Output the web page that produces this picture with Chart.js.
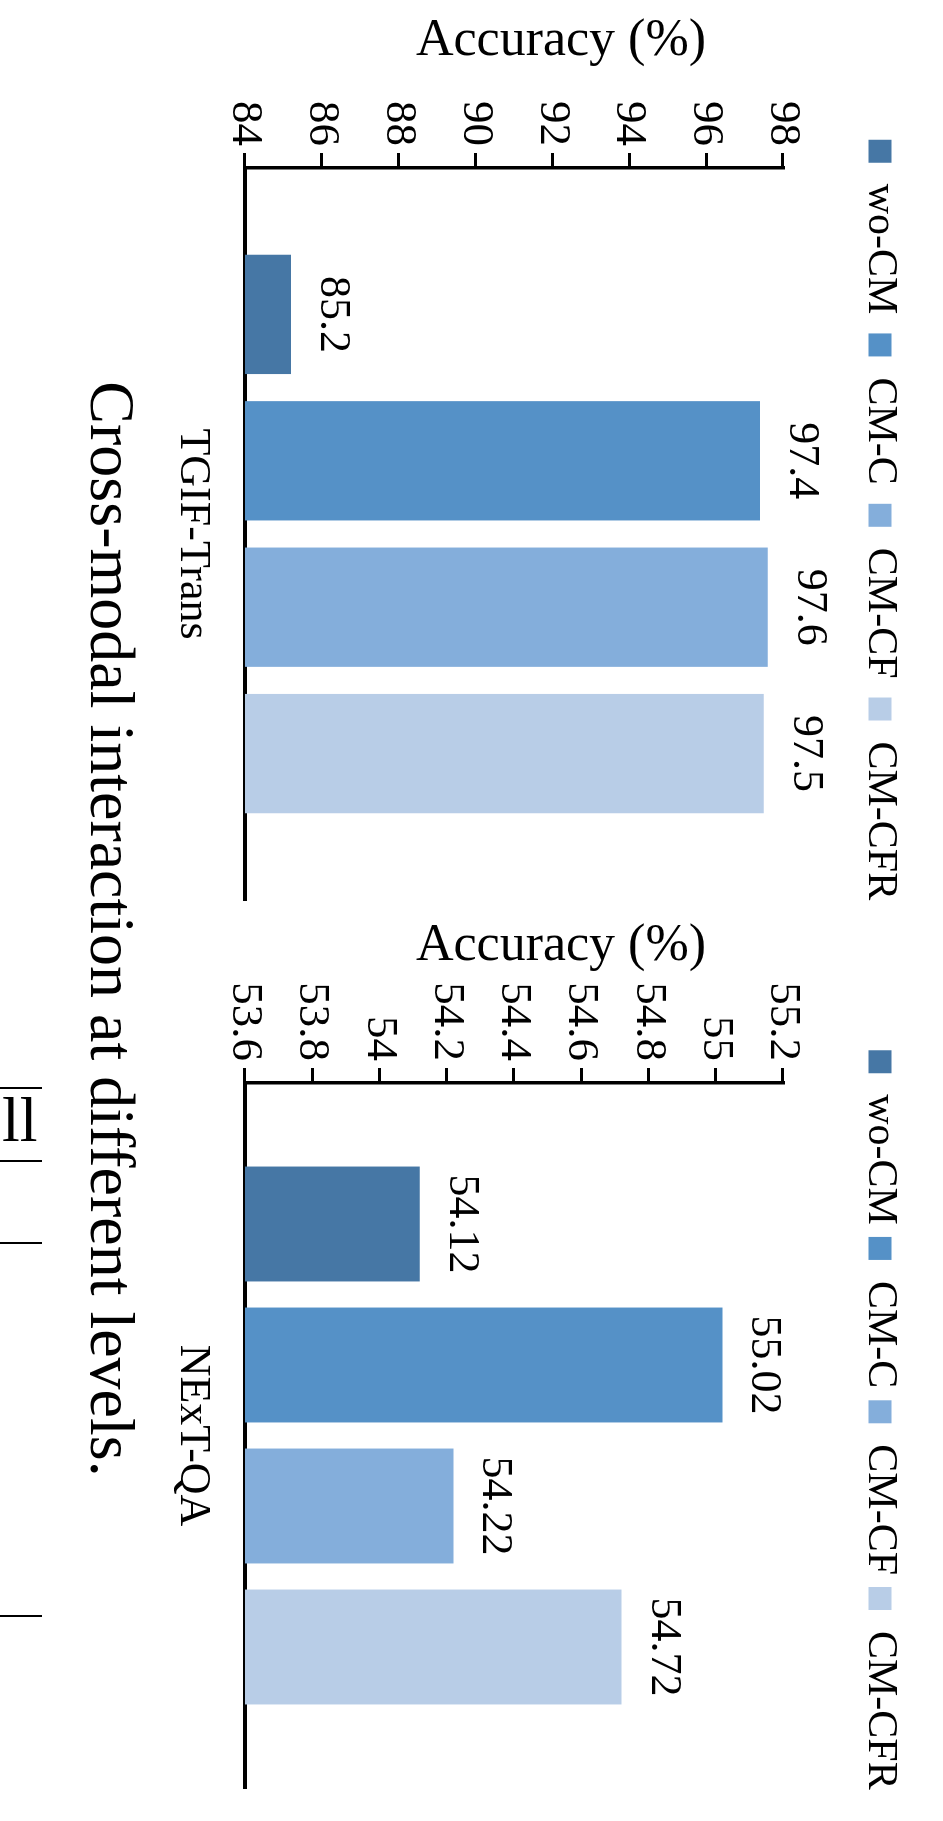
<!DOCTYPE html>
<html>
<head>
<meta charset="utf-8">
<title>Cross-modal interaction at different levels</title>
<script src="https://cdn.jsdelivr.net/npm/chart.js@4.4.1/dist/chart.umd.min.js"></script>
<style>
  html, body { margin: 0; padding: 0; background: #fff; overflow: hidden; }
  body { position: relative; width: 943px; height: 1821px; }
  /* the figure is laid out landscape and turned a quarter turn clockwise onto the page */
  #page {
    position: absolute; left: 0; top: 0;
    width: 1821px; height: 943px;
    transform-origin: 0 0;
    transform: translateX(943px) rotate(90deg);
  }
  #page canvas { position: absolute; top: 0; }
  #cvTgif { left: 0; }
  #cvNext { left: 905px; }
  #caption {
    position: absolute; left: 0; top: 799px; width: 1858px;
    font: 64px/64px 'Liberation Serif', 'Times New Roman', serif;
    color: #000; text-align: center; white-space: nowrap;
  }
  .rule { position: absolute; left: 0; width: 42px; height: 2px; background: #000; }
  #stub {
    position: absolute; left: 2px; top: 1088px;
    font: 64px/64px 'Liberation Serif', 'Times New Roman', serif; color: #000;
  }
</style>
</head>
<body>
<div id="page">
  <canvas id="cvTgif" width="905" height="943"></canvas>
  <canvas id="cvNext" width="916" height="943"></canvas>
  <div id="caption"></div>
</div>
<div class="rule" style="top:1087px"></div>
<div id="stub">ll</div>
<div class="rule" style="top:1160px"></div>
<div class="rule" style="top:1242px"></div>
<div class="rule" style="top:1615px"></div>

<script>
// ---- data ----
const seriesNames = ['wo-CM', 'CM-C', 'CM-CF', 'CM-CFR'];

const tgifCategories = ['TGIF-Trans'];
const tgifAccuracy = [85.2, 97.4, 97.6, 97.5];
const tgifTicks = [84, 86, 88, 90, 92, 94, 96, 98];
const tgifTickLabels = ['84', '86', '88', '90', '92', '94', '96', '98'];

const nextCategories = ['NExT-QA'];
const nextAccuracy = [54.12, 55.02, 54.22, 54.72];
const nextTicks = [53.6, 53.8, 54.0, 54.2, 54.4, 54.6, 54.8, 55.0, 55.2];
const nextTickLabels = ['53.6', '53.8', '54', '54.2', '54.4', '54.6', '54.8', '55', '55.2'];

const axisTitle = 'Accuracy (%)';
const captionText = 'Cross-modal interaction at different levels.';

// ---- style ----
const seriesColors = ['#4677A5', '#5591C7', '#84AEDB', '#B8CDE7'];
const fontFamily = "'Liberation Serif', 'Times New Roman', serif";

Chart.defaults.font.family = fontFamily;
Chart.defaults.color = '#000';

document.getElementById('caption').textContent = captionText;

// value printed above each bar
const valueLabels = {
  id: 'valueLabels',
  afterDatasetsDraw(chart, args, opts) {
    const ctx = chart.ctx;
    ctx.save();
    ctx.font = opts.size + 'px ' + fontFamily;
    ctx.fillStyle = '#000';
    ctx.textAlign = 'center';
    ctx.textBaseline = 'alphabetic';
    chart.data.datasets.forEach((ds, i) => {
      chart.getDatasetMeta(i).data.forEach((bar, j) => {
        ctx.fillText(String(ds.data[j]), bar.x, bar.y - opts.gap);
      });
    });
    ctx.restore();
  }
};

// moves the legend row to a fixed centre point above the plot
const legendPlacement = {
  id: 'legendPlacement',
  afterLayout(chart, args, opts) {
    const lg = chart.legend;
    if (!lg) return;
    const lab = chart.options.plugins.legend.labels;
    const itemH = Math.max(lab.font.size, lab.boxHeight);
    const dx = opts.x - (lg.left + lg.right) / 2;
    const dy = opts.y - (lg.top + lab.padding + itemH / 2);
    lg.left += dx; lg.right += dx;
    lg.top += dy; lg.bottom += dy;
  }
};

// rotated value-axis title
const valueAxisTitle = {
  id: 'valueAxisTitle',
  afterDraw(chart, args, opts) {
    const ctx = chart.ctx;
    ctx.save();
    ctx.translate(opts.x, opts.y);
    ctx.rotate(-Math.PI / 2);
    ctx.font = opts.size + 'px ' + fontFamily;
    ctx.fillStyle = '#000';
    ctx.textAlign = 'center';
    ctx.textBaseline = 'middle';
    ctx.fillText(opts.text, 0, 0);
    ctx.restore();
  }
};

const LEGEND_FONT = 42;
const PLOT_TOP = 160;

function buildChart(id, categories, values, ticks, tickLabels, geo) {
  return new Chart(document.getElementById(id), {
    type: 'bar',
    data: {
      labels: categories,
      datasets: seriesNames.map((name, i) => ({
        label: name,
        data: [values[i]],
        backgroundColor: seriesColors[i],
        borderWidth: 0,
        categoryPercentage: 0.8,
        barPercentage: 0.815
      }))
    },
    options: {
      responsive: false,
      animation: false,
      devicePixelRatio: 1,
      layout: {
        padding: { top: PLOT_TOP - (LEGEND_FONT + geo.legendPad + 10), right: geo.padRight, bottom: 0, left: 0 }
      },
      scales: {
        x: {
          grid: { display: false, drawTicks: false },
          border: { display: true, color: '#000', width: 4 },
          ticks: { color: '#000', font: { size: 44 }, padding: 26, maxRotation: 0 },
          afterFit: s => { s.height = 245; }
        },
        y: {
          min: ticks[0],
          max: ticks[ticks.length - 1],
          afterBuildTicks: s => { s.ticks = ticks.map(v => ({ value: v })); },
          grid: { drawOnChartArea: false, drawTicks: true, tickLength: 15, tickWidth: 3, tickColor: '#000', color: '#000' },
          border: { display: true, color: '#000', width: 3.5 },
          ticks: {
            color: '#000', font: { size: 45 }, padding: 7, autoSkip: false,
            callback: v => tickLabels[ticks.findIndex(t => Math.abs(t - v) < 1e-9)]
          },
          afterFit: s => { s.width = geo.yWidth; }
        }
      },
      plugins: {
        legend: {
          position: 'top',
          align: 'center',
          labels: { boxWidth: 23, boxHeight: 23, color: '#000', font: { size: LEGEND_FONT }, padding: geo.legendPad }
        },
        tooltip: { enabled: false },
        legendPlacement: { x: geo.legendX, y: 63 },
        valueLabels: { size: 44, gap: 30 },
        valueAxisTitle: { text: axisTitle, x: 41, y: 382, size: 52 }
      }
    },
    plugins: [valueLabels, legendPlacement, valueAxisTitle]
  });
}

buildChart('cvTgif', tgifCategories, tgifAccuracy, tgifTicks, tgifTickLabels,
  { yWidth: 168, padRight: 5, legendPad: 19, legendX: 520 });
buildChart('cvNext', nextCategories, nextAccuracy, nextTicks, nextTickLabels,
  { yWidth: 178, padRight: 33, legendPad: 12, legendX: 515 });
</script>
</body>
</html>
